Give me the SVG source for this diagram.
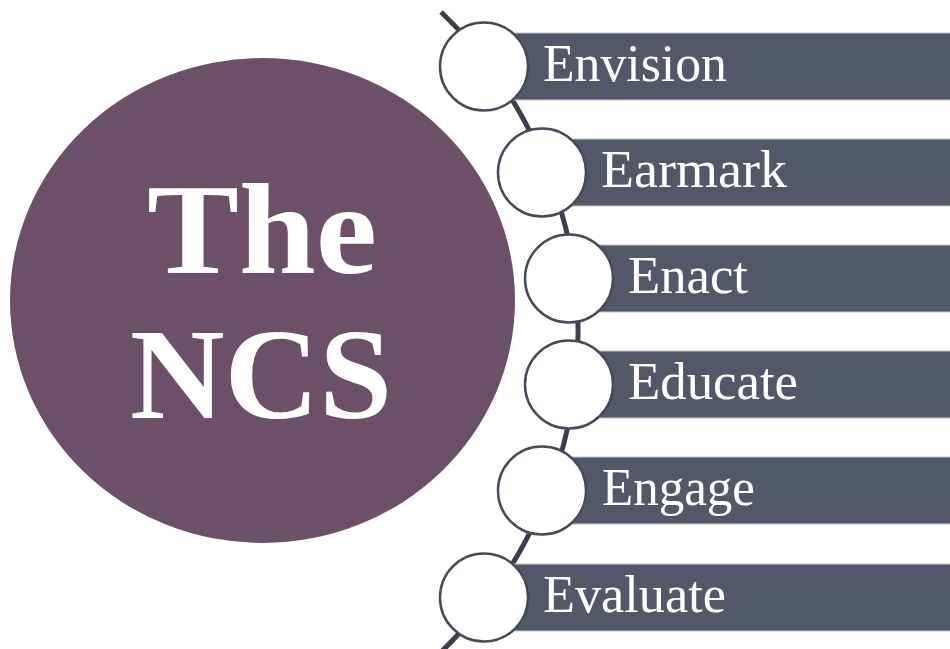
<svg xmlns="http://www.w3.org/2000/svg" width="950" height="649" viewBox="0 0 950 649">
<style>
.bar{fill:#535868;stroke:#c4c6cc;stroke-width:1}
.dot{fill:#ffffff;stroke:#474b57;stroke-width:2.5}
.lbl{font-family:"Liberation Serif","Times New Roman",serif;font-size:52px;fill:#ffffff}
.big{font-family:"Liberation Serif","Times New Roman",serif;font-weight:bold;font-size:130px;fill:#ffffff}
</style>
<rect width="950" height="649" fill="#ffffff"/>
<g id="hub">
<ellipse cx="262.5" cy="300.5" rx="252.5" ry="242.5" fill="#6c5068"/>
<text class="big" x="262" y="273" text-anchor="middle" textLength="230" lengthAdjust="spacingAndGlyphs">The</text>
<text class="big" x="261" y="418" text-anchor="middle" textLength="262" lengthAdjust="spacingAndGlyphs">NCS</text>
</g>
<g id="connectors">
<path d="M441,12 A442,442 0 0 1 441,652" fill="none" stroke="#3b3f4b" stroke-width="5"/>
</g>
<g id="envision">
<rect class="bar" x="484" y="33" width="470" height="67"/>
<circle class="dot" cx="484" cy="66.5" r="44"/>
<text class="lbl" x="543" y="81" textLength="184" lengthAdjust="spacingAndGlyphs">Envision</text>
</g>
<g id="earmark">
<rect class="bar" x="542" y="139" width="410" height="67"/>
<circle class="dot" cx="542" cy="172.5" r="44"/>
<text class="lbl" x="601" y="187" textLength="186" lengthAdjust="spacingAndGlyphs">Earmark</text>
</g>
<g id="enact">
<rect class="bar" x="570" y="245" width="382" height="67"/>
<circle class="dot" cx="569" cy="278.5" r="44"/>
<text class="lbl" x="628" y="293" textLength="120" lengthAdjust="spacingAndGlyphs">Enact</text>
</g>
<g id="educate">
<rect class="bar" x="570" y="351" width="382" height="67"/>
<circle class="dot" cx="569" cy="384.5" r="44"/>
<text class="lbl" x="628" y="399" textLength="170" lengthAdjust="spacingAndGlyphs">Educate</text>
</g>
<g id="engage">
<rect class="bar" x="542" y="457" width="410" height="67"/>
<circle class="dot" cx="542" cy="490.5" r="44"/>
<text class="lbl" x="602" y="505" textLength="153" lengthAdjust="spacingAndGlyphs">Engage</text>
</g>
<g id="evaluate">
<rect class="bar" x="484" y="564" width="470" height="67"/>
<circle class="dot" cx="484" cy="597.5" r="44"/>
<text class="lbl" x="543" y="612" textLength="183" lengthAdjust="spacingAndGlyphs">Evaluate</text>
</g>
</svg>
